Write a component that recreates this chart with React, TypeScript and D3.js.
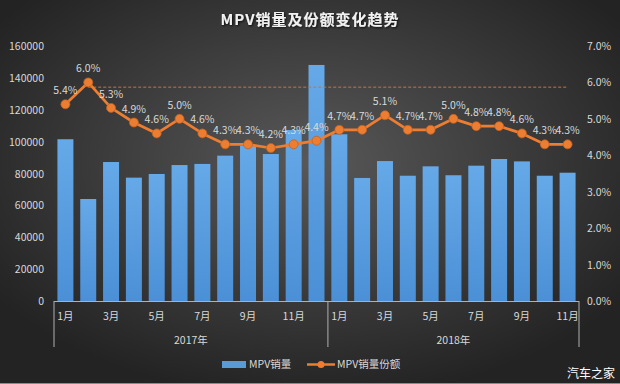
import React, { useEffect, useRef } from 'react';
import * as d3 from 'd3';

const months2017 = ['1月', '2月', '3月', '4月', '5月', '6月', '7月', '8月', '9月', '10月', '11月', '12月'];
const months2018 = ['1月', '2月', '3月', '4月', '5月', '6月', '7月', '8月', '9月', '10月', '11月'];
const years = ['2017年', '2018年'];

const sales2017 = [101500, 64000, 87200, 77400, 79700, 85300, 86000, 91200, 97500, 92200, 107300, 148100];
const sales2018 = [104600, 77200, 87800, 78600, 84500, 78900, 84900, 89100, 87600, 78600, 80500];

const share2017 = [5.4, 6.0, 5.3, 4.9, 4.6, 5.0, 4.6, 4.3, 4.3, 4.2, 4.3, 4.4];
const share2018 = [4.7, 4.7, 5.1, 4.7, 4.7, 5.0, 4.8, 4.8, 4.6, 4.3, 4.3];

const leftTicks = [0, 20000, 40000, 60000, 80000, 100000, 120000, 140000, 160000];
const rightTicks = [0, 1, 2, 3, 4, 5, 6, 7];
const refShare = 5.87;

const W = 620;
const H = 384;
const font = '"Noto Sans CJK SC", "Noto Sans", sans-serif';

function App() {
    const ref = useRef<SVGSVGElement>(null);

    useEffect(() => {
        const svg = d3.select(ref.current);
        svg.selectAll('*').remove();

        const rows = [
            ...months2017.map((m, i) => ({ key: `2017-${i}`, month: m, year: 0, sales: sales2017[i], share: share2017[i] })),
            ...months2018.map((m, i) => ({ key: `2018-${i}`, month: m, year: 1, sales: sales2018[i], share: share2018[i] })),
        ];

        const left = 54, right = 579, top = 46, bottom = 301;

        const x = d3.scaleBand<string>()
            .domain(rows.map((d) => d.key))
            .range([left, right])
            .paddingInner(0.3)
            .paddingOuter(0.15);
        const yL = d3.scaleLinear().domain([0, 160000]).range([bottom, top]);
        const yR = d3.scaleLinear().domain([0, 7]).range([bottom, top]);

        // background
        const defs = svg.append('defs');
        const bg = defs.append('radialGradient').attr('id', 'bg')
            .attr('cx', '50%').attr('cy', '42%').attr('r', '62%');
        bg.append('stop').attr('offset', '0%').attr('stop-color', '#585858');
        bg.append('stop').attr('offset', '100%').attr('stop-color', '#232323');
        const barGrad = defs.append('linearGradient').attr('id', 'barGrad')
            .attr('x1', 0).attr('y1', 0).attr('x2', 0).attr('y2', 1);
        barGrad.append('stop').attr('offset', '0%').attr('stop-color', '#66a9e8');
        barGrad.append('stop').attr('offset', '100%').attr('stop-color', '#4b90d6');
        const shadow = defs.append('filter').attr('id', 'shadow');
        shadow.append('feDropShadow').attr('dx', 1).attr('dy', 1).attr('stdDeviation', 1)
            .attr('flood-color', '#000').attr('flood-opacity', 0.8);

        svg.append('rect').attr('width', W).attr('height', H).attr('fill', 'url(#bg)');
        svg.append('line').attr('x1', 0).attr('x2', W).attr('y1', 383.5).attr('y2', 383.5)
            .attr('stroke', '#8a8a8a');

        // title
        svg.append('text')
            .attr('x', 310).attr('y', 25)
            .attr('text-anchor', 'middle')
            .attr('fill', '#f2f2f2')
            .attr('font-family', font)
            .attr('font-size', 15)
            .attr('font-weight', 'bold')
            .attr('letter-spacing', 1)
            .attr('filter', 'url(#shadow)')
            .text('MPV销量及份额变化趋势');

        // left axis labels
        svg.append('g').selectAll('text').data(leftTicks).enter().append('text')
            .attr('x', 44).attr('y', (d) => yL(d) + 4)
            .attr('text-anchor', 'end')
            .attr('fill', '#d9d9d9')
            .attr('font-family', font)
            .attr('font-size', 10.5)
            .text((d) => d);

        // right axis labels
        svg.append('g').selectAll('text').data(rightTicks).enter().append('text')
            .attr('x', 587).attr('y', (d) => yR(d) + 4)
            .attr('text-anchor', 'start')
            .attr('fill', '#d9d9d9')
            .attr('font-family', font)
            .attr('font-size', 10.5)
            .text((d) => `${d.toFixed(1)}%`);

        // bars
        svg.append('g').selectAll('rect').data(rows).enter().append('rect')
            .attr('x', (d) => x(d.key)!)
            .attr('width', x.bandwidth())
            .attr('y', (d) => yL(d.sales))
            .attr('height', (d) => bottom - yL(d.sales))
            .attr('fill', 'url(#barGrad)');

        // category axis
        const axis = svg.append('g').attr('stroke', '#b0b0b0').attr('stroke-width', 1);
        axis.append('line').attr('x1', left).attr('x2', right).attr('y1', bottom + 0.5).attr('y2', bottom + 0.5);
        const splitX = [left, left + x.step() * months2017.length, right];
        splitX.forEach((sx) => {
            axis.append('line').attr('x1', sx).attr('x2', sx).attr('y1', bottom).attr('y2', 347);
        });

        svg.append('g').selectAll('text').data(rows.filter((d, i) => (d.year === 0 ? i : i - 12) % 2 === 0))
            .enter().append('text')
            .attr('x', (d) => x(d.key)! + x.bandwidth() / 2)
            .attr('y', 320)
            .attr('text-anchor', 'middle')
            .attr('fill', '#d9d9d9')
            .attr('font-family', font)
            .attr('font-size', 10.5)
            .text((d) => d.month);

        svg.append('g').selectAll('text').data(years).enter().append('text')
            .attr('x', (d, i) => (splitX[i] + splitX[i + 1]) / 2)
            .attr('y', 344)
            .attr('text-anchor', 'middle')
            .attr('fill', '#d9d9d9')
            .attr('font-family', font)
            .attr('font-size', 10.5)
            .text((d) => d);

        // reference dashed line
        svg.append('line')
            .attr('x1', x(rows[1].key)! + x.bandwidth() / 2)
            .attr('x2', x(rows[rows.length - 1].key)! + x.bandwidth() / 2)
            .attr('y1', yR(refShare)).attr('y2', yR(refShare))
            .attr('stroke', '#c9743c')
            .attr('stroke-width', 1)
            .attr('stroke-dasharray', '3,2');

        // share line
        const line = d3.line<typeof rows[0]>()
            .x((d) => x(d.key)! + x.bandwidth() / 2)
            .y((d) => yR(d.share));
        svg.append('path').datum(rows)
            .attr('d', line)
            .attr('fill', 'none')
            .attr('stroke', '#ed7d31')
            .attr('stroke-width', 2.75)
            .attr('stroke-linejoin', 'round');
        svg.append('g').selectAll('circle').data(rows).enter().append('circle')
            .attr('cx', (d) => x(d.key)! + x.bandwidth() / 2)
            .attr('cy', (d) => yR(d.share))
            .attr('r', 4.5)
            .attr('fill', '#ed7d31')
            .attr('stroke', '#c0601f')
            .attr('stroke-width', 0.75);

        svg.append('g').selectAll('text').data(rows).enter().append('text')
            .attr('x', (d) => x(d.key)! + x.bandwidth() / 2)
            .attr('y', (d) => yR(d.share) - 10)
            .attr('text-anchor', 'middle')
            .attr('fill', '#d9d9d9')
            .attr('font-family', font)
            .attr('font-size', 10.5)
            .text((d) => `${d.share.toFixed(1)}%`);

        // legend
        const lg = svg.append('g').attr('font-family', font).attr('font-size', 10.5).attr('fill', '#d9d9d9');
        lg.append('rect').attr('x', 222).attr('y', 361).attr('width', 24).attr('height', 7).attr('fill', '#5b9bd5');
        lg.append('text').attr('x', 249).attr('y', 368).text('MPV销量');
        lg.append('line').attr('x1', 307).attr('x2', 335).attr('y1', 364.5).attr('y2', 364.5)
            .attr('stroke', '#ed7d31').attr('stroke-width', 2.5);
        lg.append('circle').attr('cx', 321).attr('cy', 364.5).attr('r', 3.5).attr('fill', '#ed7d31');
        lg.append('text').attr('x', 337).attr('y', 368).text('MPV销量份额');

        // watermark
        svg.append('text')
            .attr('x', 615).attr('y', 378)
            .attr('text-anchor', 'end')
            .attr('fill', '#ffffff')
            .attr('font-family', font)
            .attr('font-size', 12)
            .text('汽车之家');
    }, []);

    return (
        <svg ref={ref} width={W} height={H} style={{ display: 'block', position: 'absolute', left: 0, top: 0 }} />
    );
}

export default App;
